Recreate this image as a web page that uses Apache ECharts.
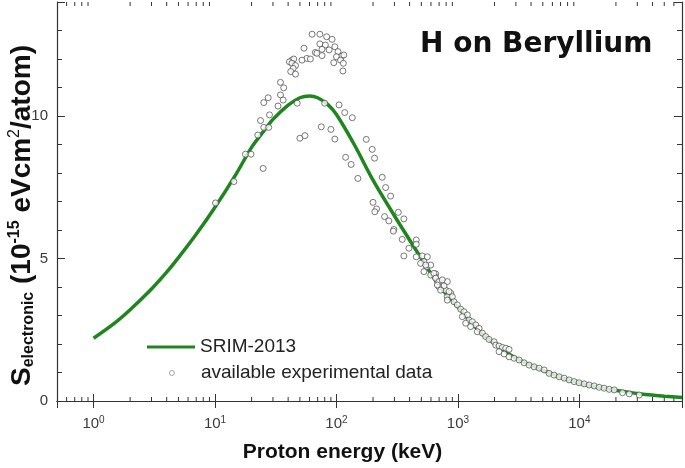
<!DOCTYPE html>
<html>
<head>
<meta charset="utf-8">
<title>H on Beryllium</title>
<script src="https://cdn.jsdelivr.net/npm/echarts@6/dist/echarts.min.js"></script>
<style>
  html, body { margin: 0; padding: 0; background: #fff; }
  #chart { width: 685px; height: 468px; }
</style>
</head>
<body>
<div id="chart"></div>
<script>
// SRIM-2013 curve, proton energy in keV, S in 1e-15 eVcm2/atom
const srimEnergy = [1, 1.5, 2, 3, 4, 5, 7, 10, 15, 20, 25, 30, 40, 50, 60, 70, 85, 100, 140, 200, 300, 400,
  500, 700, 1000, 1500, 2000, 3000, 5000, 7000, 10000, 15000, 20000, 30000, 50000, 70000]
const srimStopping = [2.20, 2.74, 3.20, 3.93, 4.52, 5.03, 5.85, 6.80, 7.98, 8.90, 9.45, 9.88, 10.38, 10.64, 10.70, 10.64, 10.40, 10.05, 9.00, 7.75, 6.50, 5.65,
  5.00, 4.05, 3.30, 2.45, 2.02, 1.50, 1.08, 0.83, 0.63, 0.47, 0.38, 0.26, 0.17, 0.12]

const expEnergy = [
  63, 73, 83, 92, 73, 81, 97, 54, 67, 76, 87, 69, 76, 103, 110, 100, 115, 108, 95, 114,
  113, 57, 61, 52, 43, 44.5, 41, 43, 46, 44, 42, 46, 34.6, 36.8, 34.6, 36.4, 27.4, 25.2, 33, 28.1,
  23.7, 25.2, 27.7, 22.5, 17.8, 19.8, 24.9, 47.5, 80, 105, 117, 135, 75, 90, 50, 55, 97, 176, 197, 206,
  119, 132, 150, 238, 10.1, 14.3,
  254, 279, 200, 214, 207, 323, 249, 270, 359, 297, 294, 348, 454, 454, 395, 359, 454, 509, 560, 525,
  493, 553, 597, 656, 648, 677, 743, 698, 818, 793, 873, 818,
  543, 525, 597, 635, 656, 698, 743, 677, 768, 721, 845, 899, 818, 929, 989, 1054, 1122, 1196, 1087, 1236,
  1159, 1315, 1402, 1274, 1493, 1445, 1590, 1694, 1803, 1985, 2049, 2183, 2325, 2478, 2637, 2183, 2401, 2637, 2902, 3191,
  3508, 3857, 4240, 4665, 5128, 5636, 6194, 6823, 7499, 8241, 9057, 9954, 10960, 12050, 13240, 14550, 16000, 17610, 19360, 22670,
  25760, 31120
]
const expStopping = [
  12.87, 12.87, 12.78, 12.69, 12.53, 12.49, 12.43, 12.38, 12.23, 12.34, 12.32, 12.20, 12.12, 12.26, 12.10, 12.08, 12.14, 11.96, 11.87, 11.85,
  11.58, 12.02, 12.00, 11.96, 11.96, 12.00, 11.90, 11.85, 11.77, 11.67, 11.56, 11.47, 11.18, 10.99, 10.74, 10.56, 10.64, 10.47, 10.35, 10.04,
  9.84, 9.60, 9.60, 9.33, 8.66, 8.66, 8.16, 10.45, 10.45, 10.39, 10.12, 9.94, 9.62, 9.53, 9.22, 9.31, 9.19, 9.18, 8.83, 8.52,
  8.55, 8.30, 7.81, 7.85, 6.95, 7.70,
  7.49, 7.19, 6.97, 6.74, 6.64, 6.62, 6.47, 6.32, 6.39, 6.02, 5.96, 5.67, 5.65, 5.50, 5.36, 5.09, 5.06, 5.09, 5.06, 4.89,
  4.83, 4.71, 4.77, 4.46, 4.36, 4.21, 4.13, 4.01, 4.19, 3.89, 3.78, 3.66,
  4.77, 4.54, 4.42, 4.48, 4.31, 4.19, 4.25, 4.07, 4.04, 3.89, 3.84, 3.66, 3.54, 3.48, 3.37, 3.22, 3.13, 3.02, 2.96, 2.84,
  2.73, 2.78, 2.67, 2.61, 2.55, 2.43, 2.38, 2.26, 2.16, 2.08, 1.96, 1.93, 1.88, 1.85, 1.81, 1.73, 1.65, 1.55, 1.50, 1.44,
  1.34, 1.26, 1.20, 1.15, 1.09, 0.97, 0.91, 0.85, 0.80, 0.74, 0.68, 0.64, 0.60, 0.56, 0.53, 0.48, 0.45, 0.41, 0.39, 0.29,
  0.25, 0.21
]

// axis extents
const xMin = 0.5
const xMax = 70000
const yMin = 0
const yMax = 14

// minor log ticks (2..9 of each decade)
const minorTickEnergy = []
for (let d = -1; d <= 4; d++) {
  for (let m = 2; m <= 9; m++) {
    const v = m * Math.pow(10, d)
    if (v > xMin && v < xMax) minorTickEnergy.push(v)
  }
}

const chart = echarts.init(document.getElementById('chart'))
const axisColor = '#333'
const labelFont = 'Liberation Sans'

const srimData = srimEnergy.map((e, i) => [e, srimStopping[i]])
const expData = expEnergy.map((e, i) => [e, expStopping[i]])
const minorData = minorTickEnergy.map(e => [e, yMin])

function isDecade(v) {
  const l = Math.log10(v)
  return Math.abs(l - Math.round(l)) < 1e-6
}

const yBase = {
  type: 'value',
  min: yMin,
  max: yMax,
  axisLine: { show: true, lineStyle: { color: axisColor, width: 1.2 } },
  splitLine: { show: false }
}

const option = {
  animation: false,
  backgroundColor: '#fff',
  title: {
    text: 'H on Beryllium',
    left: 420,
    top: 31,
    padding: 0,
    textStyle: { fontFamily: 'DejaVu Sans', fontWeight: 'bold', fontSize: 28, color: '#111' }
  },
  legend: [
    {
      data: [{ name: 'SRIM-2013', icon: 'rect' }],
      left: 147,
      top: 337,
      padding: 0,
      itemWidth: 48,
      itemHeight: 3,
      textStyle: { fontFamily: labelFont, fontSize: 19, color: '#222', lineHeight: 20 }
    },
    {
      data: [{ name: 'available experimental data', icon: 'circle' }],
      left: 169,
      top: 363,
      padding: 0,
      itemWidth: 48,
      itemHeight: 5,
      itemStyle: { color: '#fff', borderColor: '#777', borderWidth: 0.8 },
      textStyle: { fontFamily: labelFont, fontSize: 19, color: '#222', lineHeight: 20 }
    }
  ],
  grid: {
    left: 57,
    right: 3,
    top: 2,
    bottom: 67,
    containLabel: false,
    outerBoundsMode: 'none'
  },
  xAxis: [
    {
      type: 'log',
      logBase: 10,
      min: xMin,
      max: xMax,
      position: 'bottom',
      name: 'Proton energy (keV)',
      nameLocation: 'middle',
      nameGap: 41,
      nameMoveOverlap: false,
      nameTextStyle: {
        fontFamily: labelFont, fontWeight: 'bold', fontSize: 21, color: '#111',
        padding: [0, 54, 0, 0]
      },
      axisLine: { show: true, lineStyle: { color: axisColor, width: 1.2 } },
      axisTick: { show: true, inside: true, length: 7, lineStyle: { color: axisColor } },
      splitLine: { show: false },
      axisLabel: {
        margin: 14,
        showMinLabel: false,
        showMaxLabel: false,
        formatter: v => isDecade(v) ? '{b|10}{e|' + Math.round(Math.log10(v)) + '}' : '',
        rich: {
          b: { fontFamily: labelFont, fontSize: 15, color: '#3a3a3a', lineHeight: 17 },
          e: { fontFamily: labelFont, fontSize: 10, color: '#3a3a3a', verticalAlign: 'top', lineHeight: 10 }
        }
      }
    },
    {
      type: 'log',
      logBase: 10,
      min: xMin,
      max: xMax,
      position: 'top',
      axisLine: { show: true, lineStyle: { color: axisColor, width: 1.2 } },
      axisTick: { show: true, inside: true, length: 7, lineStyle: { color: axisColor } },
      axisLabel: { show: false },
      splitLine: { show: false }
    }
  ],
  yAxis: [
    Object.assign({}, yBase, {
      position: 'left',
      interval: 1,
      name: '{b|S}{s|electronic}{b| (10}{p|-15}{b| eVcm}{q|2}{b|/atom)}',
      nameLocation: 'middle',
      nameRotate: 90,
      nameGap: 20,
      nameMoveOverlap: false,
      nameTextStyle: {
        padding: [0, 28, 0, 0],
        rich: {
          b: { fontFamily: labelFont, fontWeight: 'bold', fontSize: 28, color: '#111', lineHeight: 30 },
          s: { fontFamily: labelFont, fontWeight: 'bold', fontSize: 16, color: '#111', verticalAlign: 'bottom', lineHeight: 16 },
          p: { fontFamily: labelFont, fontWeight: 'bold', fontSize: 16, color: '#111', verticalAlign: 'top', lineHeight: 16 },
          q: { fontFamily: labelFont, fontSize: 16, color: '#111', verticalAlign: 'top', lineHeight: 16 }
        }
      },
      axisTick: { show: true, inside: true, length: 5, lineStyle: { color: axisColor } },
      axisLabel: {
        margin: 9,
        fontFamily: labelFont,
        fontSize: 15,
        color: '#3a3a3a',
        formatter: v => (v % 5 === 0 && v < yMax) ? String(v) : ''
      }
    }),
    Object.assign({}, yBase, {
      position: 'right',
      interval: 1,
      axisTick: { show: true, inside: true, length: 5, lineStyle: { color: axisColor } },
      axisLabel: { show: false }
    }),
    Object.assign({}, yBase, {
      position: 'left',
      interval: 5,
      axisLine: { show: false },
      axisTick: { show: true, inside: true, length: 8, lineStyle: { color: axisColor } },
      axisLabel: { show: false }
    }),
    Object.assign({}, yBase, {
      position: 'right',
      interval: 5,
      axisLine: { show: false },
      axisTick: { show: true, inside: true, length: 8, lineStyle: { color: axisColor } },
      axisLabel: { show: false }
    })
  ],
  series: [
    {
      name: 'minor ticks',
      type: 'custom',
      silent: true,
      clip: false,
      z: 1,
      data: minorData,
      encode: { x: 0, y: 1 },
      renderItem: (params, api) => {
        const b = api.coord([api.value(0), yMin])
        const t = api.coord([api.value(0), yMax])
        const style = { stroke: axisColor, lineWidth: 1 }
        return {
          type: 'group',
          children: [
            { type: 'line', shape: { x1: b[0], y1: b[1], x2: b[0], y2: b[1] - 4 }, style },
            { type: 'line', shape: { x1: t[0], y1: t[1], x2: t[0], y2: t[1] + 4 }, style }
          ]
        }
      }
    },
    {
      name: 'SRIM-2013',
      type: 'line',
      data: srimData,
      smooth: 0.3,
      showSymbol: false,
      z: 2,
      color: '#1f861f',
      lineStyle: { color: '#1f861f', width: 3.5 }
    },
    {
      name: 'available experimental data',
      type: 'scatter',
      data: expData,
      symbol: 'circle',
      symbolSize: 6,
      z: 3,
      itemStyle: { color: '#fff', borderColor: '#444', borderWidth: 0.9 }
    }
  ]
}

chart.setOption(option)
</script>
</body>
</html>
